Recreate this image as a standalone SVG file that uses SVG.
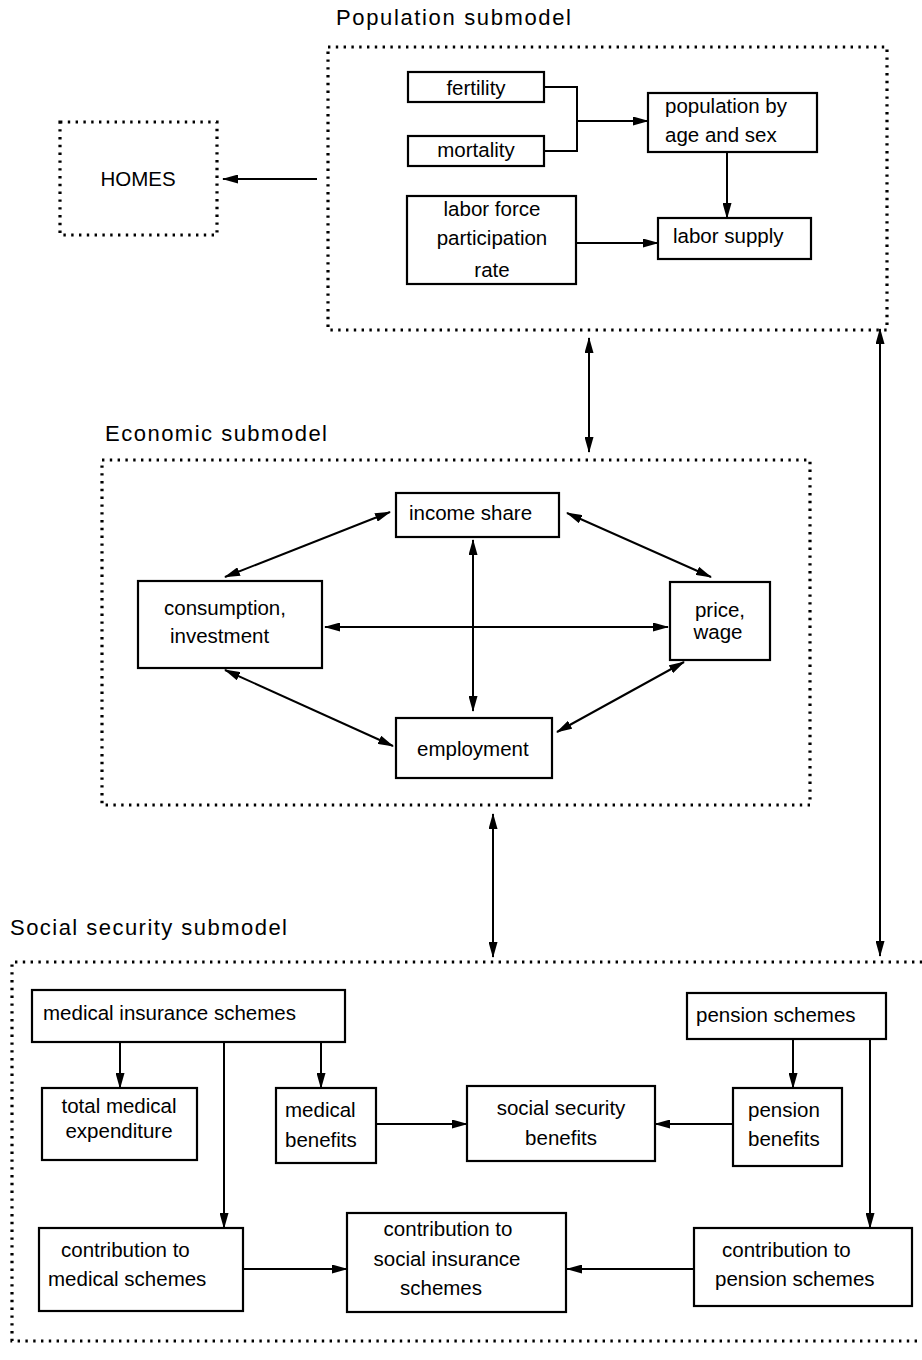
<svg xmlns="http://www.w3.org/2000/svg" width="922" height="1360" viewBox="0 0 922 1360">
<style>
text{font-family:"Liberation Sans",Arial,sans-serif;font-size:20.5px;fill:#000}
.title{font-size:22px}
.mid{text-anchor:middle}
.box{fill:#fff;stroke:#000;stroke-width:2.2}
.dot{fill:none;stroke:#000;stroke-width:3.2;stroke-dasharray:2.4 5.4}
.c{fill:none;stroke:#000;stroke-width:2}
</style>
<defs>
<marker id="ah" markerUnits="userSpaceOnUse" markerWidth="16" markerHeight="9" refX="15" refY="4.5" orient="auto-start-reverse" viewBox="0 0 16 9">
<path d="M0,0 L16,4.5 L0,9 z" fill="#000"/>
</marker>
</defs>
<rect width="922" height="1360" fill="#fff"/>

<g id="population-submodel">
<text class="title" x="336" y="25" textLength="235" lengthAdjust="spacing">Population submodel</text>
<rect class="dot" x="328" y="47" width="559" height="283"/>
</g>
<g id="homes">
<rect class="dot" x="60" y="122" width="157" height="113"/>
<text class="mid" x="138" y="186">HOMES</text>
</g>
<g id="fertility">
<rect class="box" x="408" y="72" width="136" height="30"/>
<text class="mid" x="476" y="95">fertility</text>
</g>
<g id="mortality">
<rect class="box" x="408" y="136" width="136" height="30"/>
<text class="mid" x="476" y="157">mortality</text>
</g>
<g id="population-by-age-and-sex">
<rect class="box" x="648" y="93" width="169" height="59"/>
<text x="665" y="113">population by</text>
<text x="665" y="142">age and sex</text>
</g>
<g id="labor-force-participation-rate">
<rect class="box" x="407" y="196" width="169" height="88"/>
<text class="mid" x="492" y="216">labor force</text>
<text class="mid" x="492" y="245">participation</text>
<text class="mid" x="492" y="277">rate</text>
</g>
<g id="labor-supply">
<rect class="box" x="658" y="218" width="153" height="41"/>
<text x="673" y="243">labor supply</text>
</g>

<g id="economic-submodel">
<text class="title" x="105" y="441" textLength="222" lengthAdjust="spacing">Economic submodel</text>
<rect class="dot" x="102" y="460" width="708" height="345"/>
</g>
<g id="income-share">
<rect class="box" x="396" y="493" width="163" height="44"/>
<text x="409" y="520">income share</text>
</g>
<g id="consumption-investment">
<rect class="box" x="138" y="581" width="184" height="87"/>
<text x="164" y="615">consumption,</text>
<text x="170" y="643">investment</text>
</g>
<g id="price-wage">
<rect class="box" x="670" y="582" width="100" height="78"/>
<text class="mid" x="720" y="617">price,</text>
<text class="mid" x="718" y="639">wage</text>
</g>
<g id="employment">
<rect class="box" x="396" y="718" width="156" height="60"/>
<text x="417" y="756">employment</text>
</g>

<g id="social-security-submodel">
<text class="title" x="10" y="935" textLength="277" lengthAdjust="spacing">Social security submodel</text>
<path class="dot" d="M930,962 H12 V1341 H930"/>
</g>
<g id="medical-insurance-schemes">
<rect class="box" x="32" y="990" width="313" height="52"/>
<text x="43" y="1020">medical insurance schemes</text>
</g>
<g id="total-medical-expenditure">
<rect class="box" x="42" y="1088" width="155" height="72"/>
<text class="mid" x="119" y="1113">total medical</text>
<text class="mid" x="119" y="1138">expenditure</text>
</g>
<g id="medical-benefits">
<rect class="box" x="276" y="1088" width="100" height="75"/>
<text x="285" y="1117">medical</text>
<text x="285" y="1147">benefits</text>
</g>
<g id="social-security-benefits">
<rect class="box" x="467" y="1086" width="188" height="75"/>
<text class="mid" x="561" y="1115">social security</text>
<text class="mid" x="561" y="1145">benefits</text>
</g>
<g id="pension-schemes">
<rect class="box" x="687" y="993" width="199" height="46"/>
<text x="696" y="1022">pension schemes</text>
</g>
<g id="pension-benefits">
<rect class="box" x="733" y="1088" width="109" height="78"/>
<text x="748" y="1117">pension</text>
<text x="748" y="1146">benefits</text>
</g>
<g id="contribution-to-medical-schemes">
<rect class="box" x="39" y="1228" width="204" height="83"/>
<text x="61" y="1257">contribution to</text>
<text x="48" y="1286">medical schemes</text>
</g>
<g id="contribution-to-social-insurance-schemes">
<rect class="box" x="347" y="1213" width="219" height="99"/>
<text class="mid" x="448" y="1236">contribution to</text>
<text class="mid" x="447" y="1266">social insurance</text>
<text class="mid" x="441" y="1295">schemes</text>
</g>
<g id="contribution-to-pension-schemes">
<rect class="box" x="694" y="1228" width="218" height="78"/>
<text x="722" y="1257">contribution to</text>
<text x="715" y="1286">pension schemes</text>
</g>

<g id="connectors">
<line class="c" x1="317" y1="179" x2="223" y2="179" marker-end="url(#ah)"/>
<path class="c" d="M544,87 H577 V151 H544"/>
<line class="c" x1="577" y1="121" x2="648" y2="121" marker-end="url(#ah)"/>
<line class="c" x1="727" y1="152" x2="727" y2="218" marker-end="url(#ah)"/>
<line class="c" x1="576" y1="243" x2="658" y2="243" marker-end="url(#ah)"/>
<line class="c" x1="589" y1="338" x2="589" y2="452" marker-start="url(#ah)" marker-end="url(#ah)"/>
<line class="c" x1="880" y1="329" x2="880" y2="956" marker-start="url(#ah)" marker-end="url(#ah)"/>
<line class="c" x1="225" y1="577" x2="390" y2="512" marker-start="url(#ah)" marker-end="url(#ah)"/>
<line class="c" x1="567" y1="513" x2="711" y2="577" marker-start="url(#ah)" marker-end="url(#ah)"/>
<line class="c" x1="225" y1="670" x2="393" y2="746" marker-start="url(#ah)" marker-end="url(#ah)"/>
<line class="c" x1="684" y1="662" x2="557" y2="732" marker-start="url(#ah)" marker-end="url(#ah)"/>
<line class="c" x1="325" y1="627" x2="668" y2="627" marker-start="url(#ah)" marker-end="url(#ah)"/>
<line class="c" x1="473" y1="540" x2="473" y2="711" marker-start="url(#ah)" marker-end="url(#ah)"/>
<line class="c" x1="493" y1="814" x2="493" y2="957" marker-start="url(#ah)" marker-end="url(#ah)"/>
<line class="c" x1="120" y1="1042" x2="120" y2="1088" marker-end="url(#ah)"/>
<line class="c" x1="224" y1="1042" x2="224" y2="1228" marker-end="url(#ah)"/>
<line class="c" x1="321" y1="1042" x2="321" y2="1088" marker-end="url(#ah)"/>
<line class="c" x1="793" y1="1039" x2="793" y2="1088" marker-end="url(#ah)"/>
<line class="c" x1="870" y1="1039" x2="870" y2="1228" marker-end="url(#ah)"/>
<line class="c" x1="376" y1="1124" x2="467" y2="1124" marker-end="url(#ah)"/>
<line class="c" x1="733" y1="1124" x2="655" y2="1124" marker-end="url(#ah)"/>
<line class="c" x1="243" y1="1269" x2="347" y2="1269" marker-end="url(#ah)"/>
<line class="c" x1="694" y1="1269" x2="567" y2="1269" marker-end="url(#ah)"/>
</g>
</svg>
